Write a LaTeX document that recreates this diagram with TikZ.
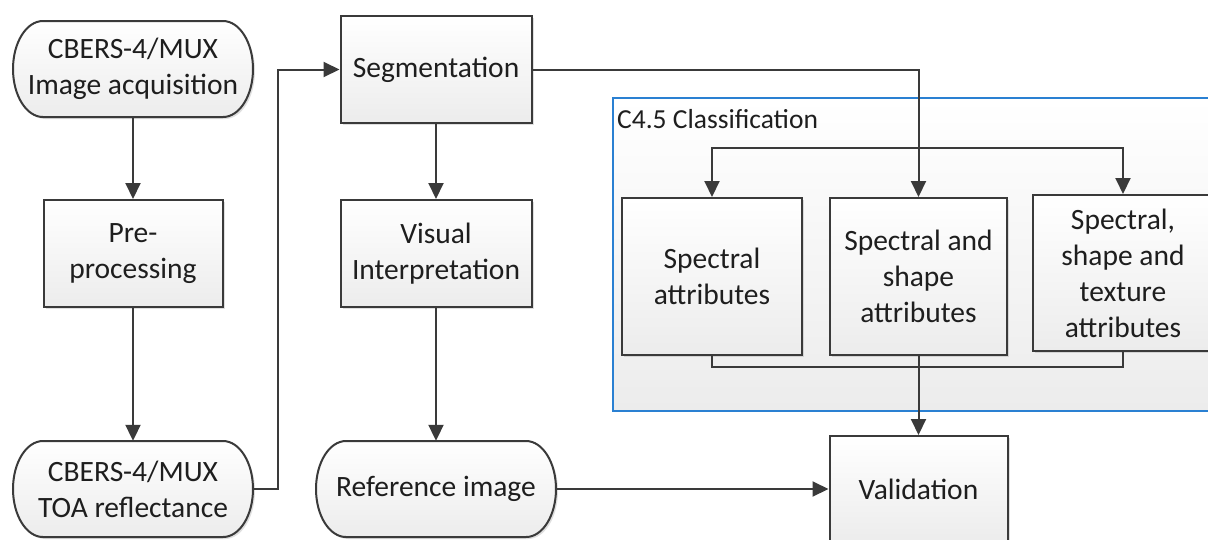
\documentclass[tikz,border=0pt]{standalone}
\usepackage{fontspec}
\setmainfont{Carlito}
\usetikzlibrary{arrows.meta,shadows,calc}
\definecolor{lc}{HTML}{3A3A3A}
\definecolor{tc}{HTML}{1E1E1E}
\definecolor{boxbot}{HTML}{ECECEC}
\definecolor{cblue}{HTML}{2A80D2}
\begin{document}
\begin{tikzpicture}[x=1pt,y=1pt,
  every node/.style={text=tc},
  mainfont/.style={font=\fontsize{29.5}{36}\selectfont},
  box/.style={draw=lc, line width=2pt, top color=white, bottom color=boxbot,
    drop shadow={shadow xshift=2pt, shadow yshift=-2pt, opacity=0.25},
    align=center, inner sep=0pt, mainfont},
  termshape/.style={draw=lc, line width=2pt, top color=white, bottom color=boxbot,
    drop shadow={shadow xshift=2pt, shadow yshift=-2pt, opacity=0.25}},
  termtext/.style={align=center, inner sep=0pt, mainfont, minimum width=240pt, minimum height=96pt},
  container/.style={draw=cblue, line width=1.8pt, top color=white, bottom color=boxbot},
  conn/.style={draw=lc, line width=2pt},
  arr/.style={conn, -{Triangle[length=16pt,width=15pt]}}]
\useasboundingbox (0,0) rectangle (1208,-539);
\clip (0,0) rectangle (1208,-539);
\fill[white] (0,0) rectangle (1208,-539);

\newcommand\mkterm[4]{%
  \path[termshape] (#2-90,#3+48) -- (#2+90,#3+48)
    arc[start angle=90,end angle=-90,x radius=30,y radius=48]
    -- (#2-90,#3-48)
    arc[start angle=270,end angle=90,x radius=30,y radius=48] -- cycle;
  \node[termtext] (#1) at (#2,#3) {#4};}

% container
\path[container] (613,-98) rectangle (1240,-411);
\node[anchor=west, inner sep=0pt, font=\fontsize{27.5}{33}\selectfont] (cl) at (617,-119) {C4.5 Classification};

% terminals
\mkterm{acq}{133}{-69}{CBERS-4/MUX\\Image acquisition}
\mkterm{toa}{133}{-489}{CBERS-4/MUX\\TOA reflectance}
\mkterm{ref}{436}{-489}{Reference image}

% process boxes
\node[box, minimum width=179pt, minimum height=107pt] (pre) at (133,-253.5) {Pre-\\processing};
\node[box, minimum width=191pt, minimum height=107pt] (seg) at (436,-69.5) {Segmentation};
\node[box, minimum width=191pt, minimum height=107pt] (vis) at (436,-253.5) {Visual\\Interpretation};
\node[box, minimum width=180pt, minimum height=157pt] (sa) at (712,-276.5) {Spectral\\attributes};
\node[box, minimum width=177pt, minimum height=157pt] (ssa) at (918.5,-276.5) {Spectral and\\shape\\attributes};
\node[box, minimum width=180pt, minimum height=156pt] (ssta) at (1123,-273) {Spectral,\\shape and\\texture\\attributes};
\node[box, minimum width=178pt, minimum height=106pt] (val) at (918.5,-489) {Validation};

% connectors
\draw[arr] (acq.south) -- (pre.north);
\draw[arr] (pre.south) -- (toa.north);
\draw[arr] (toa.east) -- ++(25,0) |- (seg.west);
\draw[arr] (seg.south) -- (vis.north);
\draw[arr] (vis.south) -- (ref.north);
\draw[arr] (ref.east) -- (val.west);
\draw[arr] (seg.east) -| (ssa.north);
\coordinate (split) at (918.5,-148);
\draw[arr] (split) -| (sa.north);
\draw[arr] (split) -| (ssta.north);
\coordinate (merge) at (918.5,-367);
\draw[conn] (sa.south) |- (merge);
\draw[conn] (ssta.south) |- (merge);
\draw[arr] (ssa.south) -- (val.north);
\end{tikzpicture}
\end{document}
